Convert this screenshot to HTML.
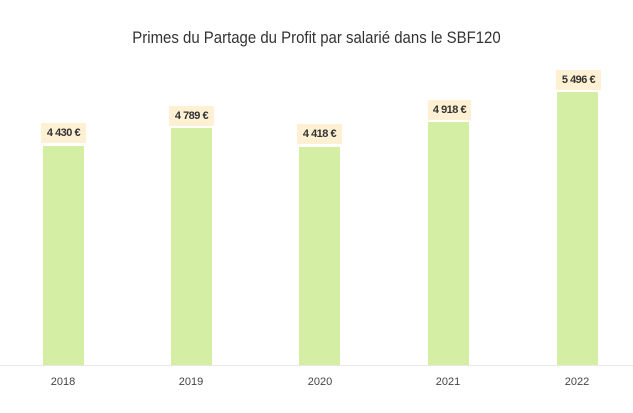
<!DOCTYPE html>
<html><head><style>
body{margin:0;width:633px;height:413px;background:#fff;position:relative;overflow:hidden;font-family:"Liberation Sans",sans-serif}
.t{position:absolute;top:28px;left:0;width:633px;text-align:center;font-size:17px;color:#333;transform:scaleX(0.88)}
.b{position:absolute;background:#d4eea3;width:41px}
.l{position:absolute;background:#fdf0d3;height:20px;line-height:20px;font-size:11px;font-weight:bold;color:#333;text-align:center;letter-spacing:-0.5px}
.x{position:absolute;top:376px;font-size:11px;color:#444;width:60px;text-align:center}
.ax{position:absolute;left:0;top:365px;width:633px;height:1px;background:#e8e8e8}
</style></head><body>
<div class="t">Primes du Partage du Profit par salarié dans le SBF120</div>
<div class="b" style="left:43px;top:146px;height:219px"></div>
<div class="l" style="left:41px;top:123px;width:45px">4 430 €</div>
<div class="b" style="left:171px;top:128px;height:237px"></div>
<div class="l" style="left:169px;top:106px;width:45px">4 789 €</div>
<div class="b" style="left:299px;top:147px;height:218px"></div>
<div class="l" style="left:297px;top:124px;width:45px">4 418 €</div>
<div class="b" style="left:428px;top:122px;height:243px"></div>
<div class="l" style="left:428px;top:100px;width:43px">4 918 €</div>
<div class="b" style="left:557px;top:92px;height:273px"></div>
<div class="l" style="left:556px;top:70px;width:45px">5 496 €</div>
<div class="ax"></div>
<div class="x" style="left:33px">2018</div>
<div class="x" style="left:161px">2019</div>
<div class="x" style="left:290px">2020</div>
<div class="x" style="left:418px">2021</div>
<div class="x" style="left:547px">2022</div>
</body></html>
